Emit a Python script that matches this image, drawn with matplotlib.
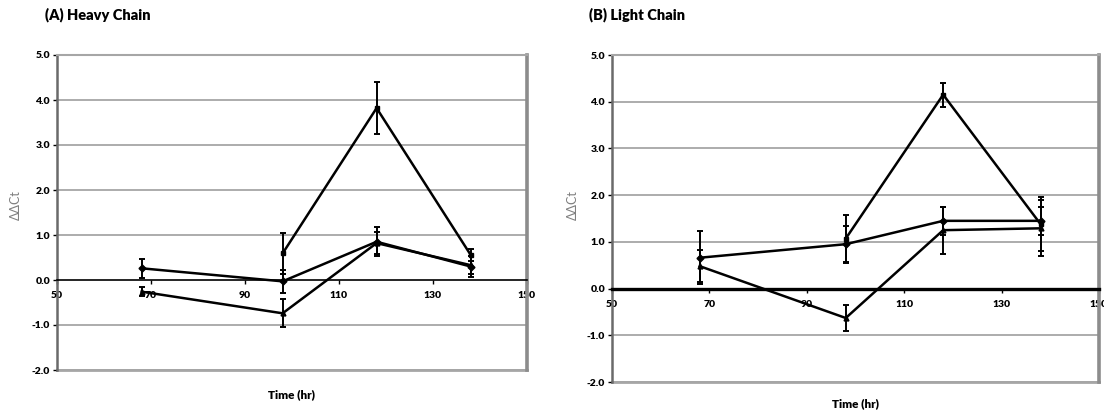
import matplotlib
matplotlib.use("Agg")
import matplotlib.pyplot as plt
import numpy as np

plt.rcParams['font.family'] = ['Lato', 'DejaVu Sans']

# Sampling times (hr)
times = [68, 98, 118, 138]
x_ticks = [50, 70, 90, 110, 130, 150]
y_ticks = [-2.0, -1.0, 0.0, 1.0, 2.0, 3.0, 4.0, 5.0]

# (A) Heavy chain  -- delta-delta Ct, mean and error
heavy_a = [np.nan, 0.59, 3.82, 0.56]
heavy_a_err = [np.nan, 0.45, 0.58, 0.14]
heavy_b = [0.26, -0.03, 0.85, 0.30]
heavy_b_err = [0.21, 0.26, 0.32, 0.24]
heavy_c = [-0.26, -0.74, 0.82, 0.33]
heavy_c_err = [0.10, 0.31, 0.25, 0.20]

# (B) Light chain
light_a = [np.nan, 1.07, 4.15, 1.38]
light_a_err = [np.nan, 0.50, 0.26, 0.57]
light_b = [0.66, 0.95, 1.45, 1.45]
light_b_err = [0.57, 0.40, 0.30, 0.30]
light_c = [0.48, -0.63, 1.25, 1.29]
light_c_err = [0.34, 0.27, 0.50, 0.60]

panels = [
    ("(A) Heavy Chain", [(heavy_a, heavy_a_err, 's'), (heavy_b, heavy_b_err, 'D'),
                         (heavy_c, heavy_c_err, '^')], 1.2),
    ("(B) Light Chain", [(light_a, light_a_err, 's'), (light_b, light_b_err, 'D'),
                         (light_c, light_c_err, '^')], 2.4),
]

fig = plt.figure(figsize=(11.04, 4.12), dpi=100)
axes_rects = [
    [57 / 1104, 1 - 370 / 412, 470 / 1104, 315 / 412],
    [612 / 1104, 1 - 382 / 412, 487 / 1104, 327 / 412],
]
title_pos = [(45 / 1104, 1 - 15 / 412), (589 / 1104, 1 - 15 / 412)]
ylabel_x = [16 / 1104, 573 / 1104]
xlabel_y = [395 / 412, 404 / 412]

grid_col = '#a6a6a6'

for i, (title, series, zero_lw) in enumerate(panels):
    ax = fig.add_axes(axes_rects[i])
    ax.set_xlim(50, 150)
    ax.set_ylim(-2.0, 5.0)

    for yv in y_ticks:
        if yv != 0.0:
            ax.axhline(yv, color=grid_col, lw=1.3, zorder=0, clip_on=False)

    for vals, errs, mk in series:
        ax.errorbar(times, vals, yerr=errs, color='black', lw=1.8, marker=mk,
                    markersize=3.5, ecolor='black', elinewidth=1.4, capsize=2.5,
                    capthick=1.4, zorder=3)

    # frame
    ax.spines['left'].set_color('#6a6a6a')
    ax.spines['left'].set_linewidth(1.8)
    ax.spines['top'].set_color(grid_col)
    ax.spines['top'].set_linewidth(1.5)
    ax.spines['right'].set_color('#8c8c8c')
    ax.spines['right'].set_linewidth(2.6)
    ax.spines['bottom'].set_position(('data', 0))
    ax.spines['bottom'].set_color('black')
    ax.spines['bottom'].set_linewidth(zero_lw)
    ax.axhline(-2.0, color=grid_col, lw=2.0, zorder=0, clip_on=False)

    ax.set_xticks(x_ticks)
    ax.set_xticklabels([str(v) for v in x_ticks])
    ax.set_yticks(y_ticks)
    ax.set_yticklabels([f"{v:.1f}" for v in y_ticks])
    ax.tick_params(axis='x', direction='out', length=3, width=1, pad=5,
                   labelsize=7.5, colors='black')
    ax.tick_params(axis='y', direction='out', length=3, width=1, pad=2,
                   labelsize=7.5, colors='black')
    for lab in ax.get_xticklabels() + ax.get_yticklabels():
        lab.set_fontweight('heavy')

    fig.text(title_pos[i][0], title_pos[i][1], title, fontsize=10.5,
             fontweight='heavy', ha='left', va='center')
    fig.text(ylabel_x[i], 1 - 205 / 412, "\u0394\u0394Ct", fontsize=9,
             color='#7f7f7f', rotation=90, ha='center', va='center')
    cx = axes_rects[i][0] + axes_rects[i][2] / 2
    fig.text(cx, 1 - xlabel_y[i], "Time (hr)", fontsize=8.5, fontweight='heavy',
             ha='center', va='center')

fig.savefig("out.png", dpi=100)
